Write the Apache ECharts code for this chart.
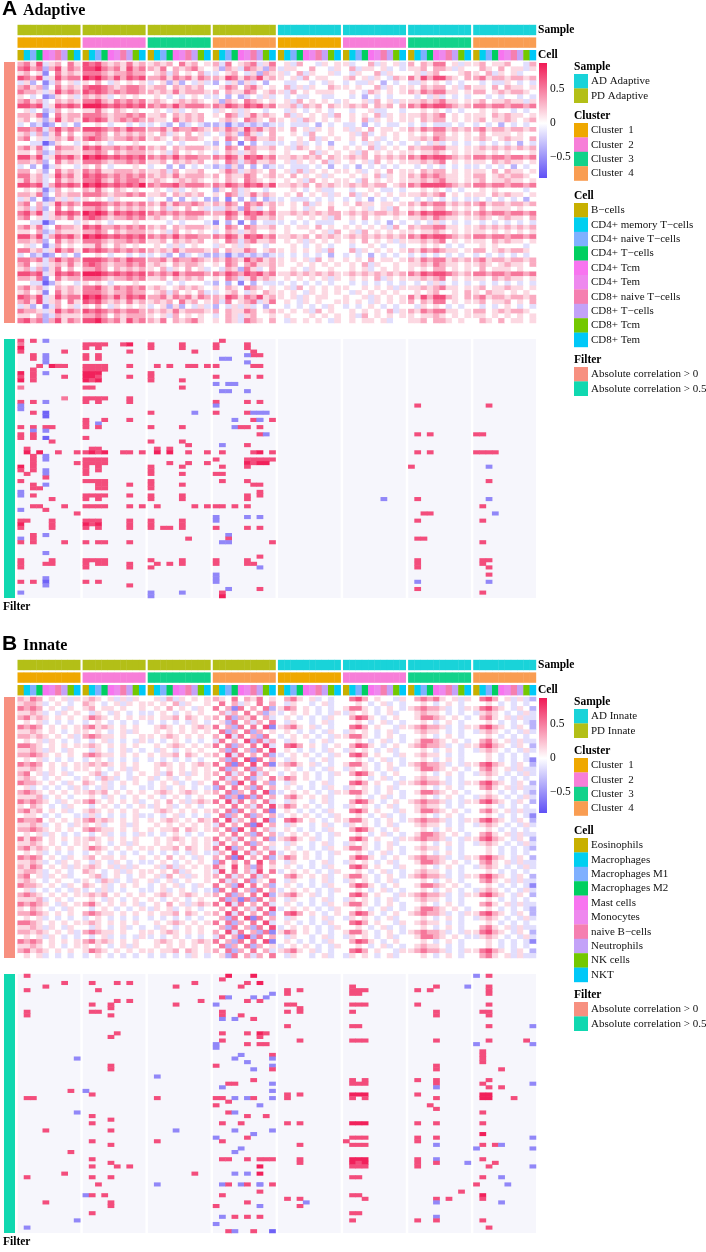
<!DOCTYPE html>
<html>
<head>
<meta charset="utf-8">
<script src="https://cdn.jsdelivr.net/npm/echarts@6/dist/echarts.min.js"></script>
<style>
  html, body { margin: 0; padding: 0; background: #fff; }
  #chart { width: 706px; height: 1252px; }
</style>
</head>
<body>
<div id="chart"></div>
<script>
// ---- data ----
const SAMPLE_KEYS = ['AD', 'PD'];
const GROUP_SAMPLE = ['PD', 'PD', 'PD', 'PD', 'AD', 'AD', 'AD', 'AD'];
const GROUP_CLUSTER = [0, 1, 2, 3, 0, 1, 2, 3];
const CLUSTERS = ['Cluster  1', 'Cluster  2', 'Cluster  3', 'Cluster  4'];
const ADAPTIVE_CELLS = ['B\u2212cells', 'CD4+ memory T\u2212cells', 'CD4+ naive T\u2212cells', 'CD4+ T\u2212cells', 'CD4+ Tcm',
  'CD4+ Tem', 'CD8+ naive T\u2212cells', 'CD8+ T\u2212cells', 'CD8+ Tcm', 'CD8+ Tem'];
const INNATE_CELLS = ['Eosinophils', 'Macrophages', 'Macrophages M1', 'Macrophages M2', 'Mast cells',
  'Monocytes', 'naive B\u2212cells', 'Neutrophils', 'NK cells', 'NKT'];
const FILTERS = ['Absolute correlation > 0', 'Absolute correlation > 0.5'];
const ANNOT_ROWS = ['Sample', 'Cluster', 'Cell'];

// digit code -> correlation
const LEVELS = [-0.72, -0.55, -0.35, -0.15, 0, 0.15, 0.32, 0.52, 0.68, 0.85];
const COLOR_MIN = -0.8, COLOR_MAX = 0.88;
const COLOR_TICKS = [-0.5, 0, 0.5];

// dense rows: 8 groups x 10 cells, one digit per cell
const ADAPTIVE_ALL = [
  "6758356475 8786565756 5656475645 6374567357 4536443545 5344635453 6465774535 5645564436",
  "7867268576 8897675867 6574656754 5265376526 3554464435 4635545343 5564665354 4654645535",
  "5645147565 7776566766 4563645463 3456435265 5346354453 4354463544 4535644456 5463545344",
  "8768358677 9897686878 6675767576 6587576856 5453645544 5645354365 7586886546 6756656656",
  "3524136453 5464354545 3452524353 2435253424 4334434354 3433542434 3354543434 4343354343",
  "6756247565 7887656776 5664656564 4576467545 4635354465 5454463545 5465664536 5546465545",
  "7665358676 8787676776 6565756665 6465576456 5364545554 4543654545 6576775545 6645656654",
  "5434125453 6565345454 4543434543 3424234353 4343344334 4342434344 4343534343 4434344343",
  "6756346565 7786576767 5654565654 5265476545 4536454543 5445364535 5565675545 5645565535",
  "8878358787 9998787878 7676867776 7687687867 5563656465 5656465646 7687887656 7767767767",
  "4534236454 5575465454 4543534544 3545354434 4354345434 4344533443 4454543434 4545443434",
  "6657147566 7776566767 5564656564 5476357565 4635454536 4545463545 5565674545 5546565545",
  "5645258565 8787567676 6554756564 4565476546 5453654545 4546354545 5465664545 5645565456",
  "3423124342 4454344343 3432423432 2313232323 3433342434 3342434334 3434333434 3434243434",
  "7767368676 8887676877 6675766765 6576586756 5464535454 5354645545 6576775656 6756656656",
  "5636257464 6676465656 5463546453 4365275346 4454364454 4536345454 5454664545 4645554544",
  "6745356575 7876566767 5654656654 5476467556 5445463545 4546453454 5565765545 5654565546",
  "4433025443 5454344454 4443434443 2424142433 3435343424 4343534343 4343534343 4343434243",
  "6757347665 8786676767 6564656665 5476476556 4536545454 5454635454 6566775545 5656565656",
  "5546236555 6676465666 5453645454 3465356445 4544463545 4536454545 5455654545 5545454445",
  "8868358786 9898787878 7676867766 7687587867 5565656465 5656465656 7687887656 7767767767",
  "6656247565 7776566767 5564656564 5476367556 4535454635 4545364545 5565674545 5546565545",
  "3424135443 5464344454 3442424343 2325242423 3433343424 3424343434 4343434343 3434342434",
  "6645247565 7675566656 5563645564 4576356546 4536354545 5453454645 5465664545 5546465545",
  "7756358675 8787676767 6565756665 6465576456 5464545354 4545463545 6576765545 6645656654",
  "5756347565 7786576776 5654565654 5465476545 4545364545 5436454545 5565675545 5645565545",
  "8878368787 9898787879 7677867776 7687687868 5565646565 5656566456 7688887656 7767767767",
  "4545136454 6575465454 4543534544 2546354434 4454345334 4344543343 4454543434 4545444434",
  "6657246566 7776566767 5564656564 5476357565 4546454535 4635454545 5565674545 5546565545",
  "3524125353 5454354444 3442424342 2414242423 3433343434 3434243434 4343434343 3434343424",
  "6746358676 8887676767 6575766765 6576476756 5454635454 5465545545 6576775656 6756656656",
  "5636247464 6676465656 5463546453 3365275346 4454354464 4545345364 5454664545 4645554544",
  "7868358787 9898687878 7676767776 6687587867 5565656566 5656566565 7687887656 6767767767",
  "6745356575 7876566767 5654656654 5476467556 5445454536 4546454454 5565765545 5654565546",
  "4433024443 5454344454 4443434443 1424142433 3434343334 4343434243 4343534343 4343434343",
  "6757347665 8786676767 6564656665 5476476556 4545546454 5454545364 6566775545 5656565656",
  "5546236555 6676465666 5453645454 3465356445 4544454536 4536454545 5455654545 5545454545",
  "8868368786 9898787878 7676867766 7687587867 5565646565 5656565656 7687887656 7767767767",
  "6656247565 7776566767 5564656564 5476367556 4545354545 4546454535 5565674545 5546565545",
  "4534136454 5575465454 4543534544 3545354434 4454345434 4344543443 4454543434 4545444434",
  "7756358675 8787676767 6565756665 6465576456 5454545364 4635454545 6576765545 6645656654",
  "3423124342 4454344343 3432423432 2313232323 3434343424 3434243434 3434343434 3434343434",
  "7767368676 8887676877 6675766765 6576586756 5454536454 5454645545 6576775656 6756656656",
  "6745356575 7876566767 5654656654 5476467556 5445454545 4546354454 5565765545 5654565546",
  "5636257464 6676465656 5463546453 4365275346 4454354454 4545345454 5454664545 4645554544",
  "8878358787 9998787878 7676867776 7687687867 5565656565 5656565656 7687887656 7767767767",
  "6657147566 7776566767 5564656564 5476357565 4545454535 4545463545 5565674545 5546565545",
  "4433025443 5454344454 4443434443 2424142433 3434343434 4343434343 4343534343 4343434343",
  "6756346565 7786576767 5654565654 5465476545 4536454545 5445454535 5565675545 5645565545",
  "5645147565 7776566766 4563645463 3456435465 5454354545 4354545454 4545644546 5465545454",
  "8768358677 9897686878 6675767576 6587576856 5453545544 5445354545 7586886546 6756656656",
  "6758356475 8786565756 5656475645 6374567357 4543545445 5454354545 6465774545 5645564546",
  "3524136453 5464354545 3452524353 2435353424 4343434354 3434543434 4354543434 4343454343",
  "7665358676 8787676776 6565756665 6465576456 5454536454 4545454635 6576775545 6645656654",
  "5546236555 6676465666 5453645454 3465356445 4544454545 4536454545 5455654545 5545454545",
  "7867268576 8897675867 6574656754 5465376546 4354545435 4545545344 5564665454 4654645545"
];

const INNATE_ALL = [
  "6576454535 5654535354 4536354545 6547465745 4675453434 4786454435 4676754535 4786453532",
  "5665345434 6543453545 5454635445 4746354746 4354434534 4454345343 4454345434 4454343434",
  "7676454354 5645545445 4546454354 7461746472 5764543434 5775434543 5676653435 5786543542",
  "5565343545 4354354343 3454345454 4636474625 3454543435 3545434534 4565543434 3565434353",
  "6756545454 5765454545 5455646545 6472657463 4543434354 4687543454 4577654543 4675453533",
  "4545343434 3454343434 3434343543 4527463647 4354434534 4454345343 4454345434 4454343432",
  "7676454545 6756545454 4565454565 7462747481 5675453434 4786454435 5676653435 5786543542",
  "5565454345 5454345354 4545454545 4726472645 4543434354 3545434534 4565543434 3565434353",
  "6656545453 6765545445 5456545454 6483746274 3454543435 5775434543 4454345434 4454343434",
  "4545354343 4345343435 3434543434 3746482736 4354434534 4454345343 4577654543 4675453533",
  "7765454545 5654545454 4545654545 7472647483 4786454345 4687543454 5676653435 5786543542",
  "5565354354 4354345343 4354345454 4627462748 4543434354 3545434534 4454345434 3565434353",
  "6676545454 6765545454 5455646545 6483746472 3454543435 4786454435 4565543434 4454343434",
  "4545343434 3454343434 3434343434 4627481746 4354434534 4454345343 4454345434 4454343431",
  "7676454545 5656545454 4565454565 7471748471 5675453434 5775434543 5676653435 5786543542",
  "5565454345 5454345354 4545454545 4726472645 4543434354 3545434534 4577654543 4675453533",
  "6745354534 4563454345 4536453545 6473647364 3454543435 4687543454 4454345434 3565434353",
  "5654345443 5436534354 5345345445 4736472547 5764543434 4454345343 4565543434 4454343434",
  "7665454354 6545345454 3454534354 7462847462 4354434534 4786454435 5676653435 5786543542",
  "4534343435 3435343443 3453454343 2747462746 4543434354 3545434534 4454345434 4675453533",
  "6765454545 5656454545 4565456545 6472647482 3454543435 5775434543 4577654543 4454343432",
  "5556345434 4543543454 5434543454 4726172746 4675454534 4454345343 4454345434 3565434353",
  "7676543545 6754545453 4546453565 7483746473 4354434534 4687543454 5676653435 5786543542",
  "5465434354 4345434345 3545345434 4647463748 5764543434 3545434534 4565543434 4454343434",
  "6756454534 5654545454 4565454545 6472746471 4543434354 4786454435 4577654543 4675453533",
  "4554343443 3534343453 3434534343 4726472646 3454543435 4454345343 4454345434 4454343431",
  "7667454545 6756545454 5456545465 7483647482 4786454345 5775434543 5676653435 5786543542",
  "5565345435 5453445354 4545454545 3746471846 4354434534 3545434534 4565543434 3565434353",
  "6676545454 6765545454 5455646545 6472847463 4543434354 4687543454 4454345434 4454343434",
  "4545354343 4345343435 3434543434 4647462746 3454543435 4454345343 4577654543 4675453533",
  "7576454545 5654545454 4545654545 7463746472 5675453434 4786454435 5676653435 5786543542",
  "5565454345 5454345354 4545454545 3746472645 4354434534 3545434534 4454345434 3565434353",
  "6756545454 5765454545 5455646545 7482647463 4543434354 5775434543 4565543434 4454343432",
  "4545343434 3454343434 3434343543 3648473647 3454543435 4454345343 4454345434 4454343434",
  "7676454354 5645545445 4546454354 6471846472 5764543434 4687543454 5676653435 5786543542",
  "5565343545 4354354343 3454345454 2746474846 4354434534 3545434534 4577654543 4675453533",
  "6576454535 5654535354 4536354545 7548462745 4543434354 4786454435 4454345434 3565434353",
  "5665345434 6543453545 5454635445 3847463847 3454543435 4454345343 4565543434 4454343434",
  "6745354534 4563454345 4536453545 6473647364 4675454534 5775434543 5676653435 5786543542",
  "5654345443 5436534354 5345345445 4736472547 4354434534 3545434534 4454345434 4675453533",
  "7665454354 6545345454 3454534354 7462847462 4543434354 4687543454 4577654543 4454343431",
  "4534343435 3435343443 3453454343 2747462746 3454543435 4454345343 4454345434 3565434353",
  "6765454545 5656454545 4565456545 6472647482 5675453434 4786454435 5676653435 5786543542",
  "5556345434 4543543454 5434543454 4726172746 4354434534 3545434534 4565543434 4454343434",
  "7676543545 6754545453 4546453565 7483746473 4543434354 5775434543 4454345434 4675453533",
  "5465434354 4345434345 3545345434 4647463748 3454543435 4454345343 4577654543 4454343432",
  "6676545454 6765545454 5455646545 6483746472 4786454345 4687543454 5676653435 5786543542",
  "4545343434 3454343434 3434343434 4627481746 4354434534 3545434534 4454345434 3565434353",
  "7765454545 5654545454 4545654545 7472647483 4543434354 4786454435 4565543434 4454343434",
  "5565354354 4354345343 4354345454 4627462748 3454543435 4454345343 4454345434 4675453533",
  "6656545453 6765545445 5456545454 6483746271 5764543434 5775434543 5676653435 5786543542",
  "4545354343 4345343435 3434543434 3746182746 4354434534 3545434534 4577654543 3565434353",
  "7676454545 6756545454 4565454565 7462747481 4543434354 4687543454 4454345434 4454343431",
  "5565454345 5454345354 4545454545 4726472645 3454543435 4454345343 4565543434 4454343434",
  "6756545454 5765454545 5455646545 6472647463 5675453434 4786454435 5676653435 5786543542",
  "4545343434 3454343434 3434343543 4527463647 4354434534 3545434534 4454345434 4675453533"
];

// sparse rows (|r| > 0.5): per group, pairs of (column digit, level digit); "-" = none
const ADAPTIVE_STRONG = [
  "082841 - - 18 - - - -",
  "07 081828386879 0858 0858 - - - -",
  "09 0828 0858 0858 - - - -",
  "0878 78 78 68 - - - -",
  "2841 0828 - 687851 - - - -",
  "2841 0828 - 1121 - - - -",
  "41 - - 51 - - - -",
  "3859686878 0818283878 1838687898 086878 - - - -",
  "28 08182838 - - - - - -",
  "092841 091929 08 - - - - -",
  "082878 09192878 08 085878 - - - -",
  "0928 091829 0858 - - - - -",
  "- - - 012131 - - - -",
  "07 0818 58 - - - - -",
  "- - - 112151 - - - -",
  "- - - - - - - -",
  "77 0818283878 - - - - - -",
  "082841 082878 - 085878 - - - -",
  "01 - - 01 - - 18 28",
  "01 - - - - - - -",
  "2840 - 0871 0858617181 - - - -",
  "40 - - - - - - -",
  "- 083878 - 3168717198 - - - -",
  "- 0821 - - - - - -",
  "08284858 0828 0858 31485878 - - - -",
  "2141 - - - - - - -",
  "0828 - - 7881 - - 1838 0818",
  "082840 08 - - - - - -",
  "58 - 0858 - - - - -",
  "- - 68 1158 - - - -",
  "18 1828 1838 - - - - -",
  "19396898 08192839687898 19396898 18687998 - - 1838 08182838",
  "2841 - - - - - - -",
  "2841 08182838 - 085868788898 - - - -",
  "2898 08182838 386898 59687989 - - - -",
  "0928 0828 0858 1858 - - 08 21",
  "082841 0828 08 - - - - -",
  "1841 08 0858 0818 - - - -",
  "48 - - - - - - -",
  "08 08182838 08 1858 - - - 28",
  "2841 283878 0858 6878 - - - -",
  "2838 2838 08 - - - - -",
  "01 - - 78 - - - -",
  "0128 0818283878 0858 5878 - - - -",
  "58 0828 0858 58 - 61 18 21",
  "- - - - - - - -",
  "283878 081828387898 187898 08183858 - - - 18",
  "0148 - - - - - - -",
  "98 - - - - - 2838 31",
  "- - - 015171 - - - -",
  "081858 08182878 0858 01 - - 18 18",
  "0958 09182978 0858 - - - - -",
  "0858 082878 08283858 085878 - - - -",
  "- - - - - - - -",
  "2841 - - 21 - - - -",
  "0128 - 68 28 - - 1828 -",
  "082878 08283878 - 112198 - - - 18",
  "- - - - - - - -",
  "- - - - - - - -",
  "41 - - - - - - -",
  "- - - 78 - - - -",
  "0858 08182838 0858 0858 - - 18 1828",
  "084858 08283878 183858 085868 - - 18 18",
  "08 0878 08 71 - - 18 28",
  "- - - - - - - -",
  "- - - 01 - - - 28",
  "41 - - 01 - - - -",
  "082840 0828 - 01 - - 11 21",
  "41 78 - - - - - -",
  "- - - 2178 - - 18 -",
  "01 - 0151 18 - - - 18",
  "- - 01 19 - - - -"
];

const INNATE_STRONG = [
  "18 - - 2969 - - - 0128",
  "- - - 18 - - - -",
  "78 185878 78 5879 - - - -",
  "48 - 48 48 - 18 4891 28",
  "18 28 - - 1838 182838 1838 28",
  "- - - 91 18 1828 - 28",
  "- - - 18216181 - - - -",
  "- 5878 88 5878 - - - -",
  "- 1848 48 01 1828 182838 18 28",
  "- 48 - - 38 - - -",
  "18 1828 - 18 1838 18 48 1828",
  "18 48 - 1848 - - 48 28",
  "- - - 113168 - - - -",
  "- - - - - - - -",
  "- - - - 18 1828 - 2891",
  "- - - - - - - -",
  "- 58 - 18587988 - - - -",
  "- 48 - 78 - - - -",
  "- - - 18 38 182838 48 2888",
  "- - - 01587888 - - - 0191",
  "- - - 01 - - - -",
  "- - - - - - - 18",
  "- - - 4198 - - - 18",
  "91 - - 3191 - - - 18",
  "- - - 51 - - - 18",
  "- 48 - 0891 - - 48 -",
  "- 48 - 6198 - - 48 48",
  "- - - - - - - -",
  "- - 11 - - - - -",
  "- - - 68 - 1838 1848 28",
  "- - - 283891 - 182838 48 1891",
  "- - - 11 - - 41 2848",
  "88 01 - 91 - - - -",
  "- 18 - - 1838 192939 18 1929",
  "1828 - 18 081831516891 18 1838 48 192968",
  "- - - 28 - - - -",
  "- - - 0871 - - 38 -",
  "- - - - - - 48 -",
  "91 - - 2831 - - - 18",
  "- 18 - 5888 - - - -",
  "- 48 - - - - - -",
  "- 18 - 1848 1838 192939 1848 18",
  "- - - - - - - -",
  "48 48 41 3191 - - - -",
  "- - - 61 - - - 19",
  "- - - 0158 - 182838 1848 91",
  "- 18 18 18 - 08 18 -",
  "- 48 - - 38 182838 41 183841",
  "- - - 41 - - - 0191",
  "88 - - 31 - - - -",
  "- - - - - - - -",
  "- 18 - 182858788898 38 192939 1841 18",
  "- 48 - - 38 192839 184891 38",
  "- 185878 - 79 - 182838 18 2891",
  "- - - - - - - -",
  "78 - 78 315179 - - - -",
  "18 1848 - - - 1828 - 1841",
  "- - - - - - - -",
  "- 28 11 11284158717198 - - - 0851",
  "- - - - - - - -",
  "- - - 78 - - 88 -",
  "- 011838 - 18 - 1828 - 19",
  "- - - - 1838 38 4868 18",
  "48 48 - 58 41 - 41 41",
  "- 48 - 0871 38 - - -",
  "- - - - - - - -",
  "- 18 - - - 1828 - -",
  "- - - 11385878 - - 41 -",
  "91 - - - - 18 1848 18",
  "- - - 01 - - - -",
  "11 - - - - - - 28",
  "- - - 28316890 - - - -"
];

// ---- colours ----
const SAMPLE_COLORS = { AD: '#19D3D9', PD: '#B3BF17' };
const CLUSTER_COLORS = ['#EFA800', '#F77ED8', '#12D28A', '#F99D52'];
const CELL_COLORS = ['#C8B000', '#00CFF0', '#7FB0FF', '#00CF60', '#F874F0',
  '#EE88EE', '#F57FB0', '#C3A2F8', '#73C800', '#00C8F8'];
const FILTER_COLORS = ['#F79080', '#10D8B0'];
const NEG_END = [95, 80, 245], POS_END = [240, 25, 85];
const NA_COLOR = '#F6F6FC';
const SERIF = 'Liberation Serif';

function heatColor(v) {
  const t = v < 0 ? Math.min(1, v / COLOR_MIN) : Math.min(1, v / COLOR_MAX);
  const end = v < 0 ? NEG_END : POS_END;
  const m = k => Math.round(255 + (end[k] - 255) * t);
  return 'rgb(' + m(0) + ',' + m(1) + ',' + m(2) + ')';
}
const STEPS = 42;
const VM_COLORS = [];
for (let i = 0; i <= STEPS; i++) VM_COLORS.push(heatColor(COLOR_MIN + (COLOR_MAX - COLOR_MIN) * i / STEPS));
const GRAD_STOPS = VM_COLORS.slice().reverse().map((c, i) => ({ offset: i / STEPS, color: c }));

function parseDense(rows) {
  return rows.map(r => r.replace(/ /g, '').split('').map(ch => LEVELS[+ch]));
}
function parseSparse(rows) {
  const out = [];
  rows.forEach((row, r) => {
    row.split(' ').forEach((part, g) => {
      if (part === '-') return;
      for (let k = 0; k < part.length; k += 2) out.push({ g: g, c: +part[k], r: r, v: LEVELS[+part[k + 1]] });
    });
  });
  return out;
}

const PANELS = [
  { key: 'A', title: 'Adaptive', dy: 0, samples: ['AD Adaptive', 'PD Adaptive'], cells: ADAPTIVE_CELLS, all: ADAPTIVE_ALL, strong: ADAPTIVE_STRONG },
  { key: 'B', title: 'Innate', dy: 635, samples: ['AD Innate', 'PD Innate'], cells: INNATE_CELLS, all: INNATE_ALL, strong: INNATE_STRONG }
];

// ---- layout ----
const GX0 = 17.7, GW = 62.6, GSTEP = 65.1;

const grid = [], xAxis = [], yAxis = [], series = [], graphic = [], heatIdx = [];

function addGrid(box, xa, ya) {
  const i = grid.length;
  grid.push(Object.assign({ containLabel: false }, box));
  xAxis.push(Object.assign({ gridIndex: i, show: false }, xa));
  yAxis.push(Object.assign({ gridIndex: i, show: false }, ya));
  return i;
}

function annotRect(params, api) {
  const c = api.coord([api.value(0), api.value(1)]);
  const s = api.size([1, 1]);
  return {
    type: 'rect',
    shape: { x: c[0] - s[0] / 2 - 0.2, y: c[1] - 5.2, width: s[0] + 0.4, height: 10.4 },
    style: { fill: api.visual('color') }
  };
}
function fullRect(params, api) {
  const c = api.coord([api.value(0), api.value(1)]);
  const s = api.size([1, 1]);
  return {
    type: 'rect',
    shape: { x: c[0] - s[0] / 2, y: c[1] - s[1] / 2, width: s[0], height: s[1] },
    style: { fill: api.visual('color') }
  };
}

PANELS.forEach(p => {
  const dy = p.dy;
  const dense = parseDense(p.all);
  const sparse = parseSparse(p.strong);
  const strongRows = p.strong.map((_, r) => String(r));
  const allRows = dense.map((_, r) => String(r));

  for (let g = 0; g < 8; g++) {
    const left = GX0 + g * GSTEP;

    // annotation bars
    let i = addGrid(
      { left: left, top: 23.7 + dy, width: GW, height: 37.8 },
      { type: 'category', data: p.cells },
      {
        type: 'category', data: ANNOT_ROWS, inverse: true, show: g === 7, position: 'right',
        axisLine: { show: false }, axisTick: { show: false },
        axisLabel: { margin: 2, fontFamily: SERIF, fontWeight: 'bold', fontSize: 11.5, color: '#000' }
      }
    );
    const items = [];
    p.cells.forEach((name, c) => {
      items.push({ value: [c, 0], itemStyle: { color: SAMPLE_COLORS[GROUP_SAMPLE[g]] } });
      items.push({ value: [c, 1], itemStyle: { color: CLUSTER_COLORS[GROUP_CLUSTER[g]] } });
      items.push({ value: [c, 2], itemStyle: { color: CELL_COLORS[c] } });
    });
    series.push({ type: 'custom', xAxisIndex: i, yAxisIndex: i, silent: true, renderItem: annotRect, data: items });

    // all correlations
    i = addGrid(
      { left: left, top: 62 + dy, width: GW, height: 261 },
      { type: 'category', data: p.cells },
      { type: 'category', data: allRows, inverse: true }
    );
    const hd = [];
    dense.forEach((row, r) => { for (let c = 0; c < 10; c++) hd.push([c, r, row[g * 10 + c]]); });
    heatIdx.push(series.length);
    series.push({ type: 'heatmap', xAxisIndex: i, yAxisIndex: i, data: hd, progressive: 0, silent: true, itemStyle: { borderWidth: 0 } });

    // strong correlations
    i = addGrid(
      { left: left, top: 339 + dy, width: GW, height: 259, show: true, backgroundColor: NA_COLOR, borderWidth: 0 },
      { type: 'category', data: p.cells },
      { type: 'category', data: strongRows, inverse: true }
    );
    const sd = sparse.filter(e => e.g === g).map(e => [e.c, e.r, e.v]);
    heatIdx.push(series.length);
    series.push({ type: 'heatmap', xAxisIndex: i, yAxisIndex: i, data: sd, progressive: 0, silent: true, itemStyle: { borderWidth: 0 } });
  }

  // filter annotation on the left
  [[62, 261], [339, 259]].forEach((box, k) => {
    const i = addGrid(
      { left: 4, top: box[0] + dy, width: 11, height: box[1] },
      { type: 'category', data: ['Filter'] },
      { type: 'category', data: [FILTERS[k]] }
    );
    series.push({
      type: 'custom', xAxisIndex: i, yAxisIndex: i, silent: true, renderItem: fullRect,
      data: [{ value: [0, 0], itemStyle: { color: FILTER_COLORS[k] } }]
    });
  });

  // colour bar
  const ci = addGrid(
    { left: 539, top: 63 + dy, width: 8, height: 115 },
    { type: 'category', data: ['r'] },
    {
      type: 'value', min: COLOR_MIN, max: COLOR_MAX, show: true, position: 'right',
      axisLine: { show: false }, axisTick: { show: false }, splitLine: { show: false },
      axisLabel: {
        customValues: COLOR_TICKS, margin: 3, fontFamily: SERIF, fontSize: 11.5, color: '#111',
        formatter: v => (v < 0 ? '\u2212' + Math.abs(v) : String(v))
      }
    }
  );
  series.push({
    type: 'custom', xAxisIndex: ci, yAxisIndex: ci, silent: true,
    renderItem: (params, api) => {
      const top = api.coord([0, COLOR_MAX]), bot = api.coord([0, COLOR_MIN]);
      const s = api.size([1, 0]);
      return {
        type: 'rect',
        shape: { x: top[0] - s[0] / 2, y: top[1], width: s[0], height: bot[1] - top[1] },
        style: { fill: new echarts.graphic.LinearGradient(0, 0, 0, 1, GRAD_STOPS) }
      };
    },
    data: [[0, 0]]
  });

  // titles
  graphic.push({ type: 'text', x: 2, y: 20 + dy, style: { text: p.key, font: 'bold 21px "Liberation Sans"', fill: '#000', verticalAlign: 'bottom' } });
  graphic.push({ type: 'text', x: 23, y: 18.5 + dy, style: { text: p.title, font: 'bold 16px "' + SERIF + '"', fill: '#000', verticalAlign: 'bottom' } });
  graphic.push({ type: 'text', x: 3, y: 613 + dy, style: { text: 'Filter', font: 'bold 11.5px "' + SERIF + '"', fill: '#000', verticalAlign: 'bottom' } });

  // legends
  const blocks = [
    { title: 'Sample', top: 74, names: p.samples, colors: SAMPLE_KEYS.map(k => SAMPLE_COLORS[k]) },
    { title: 'Cluster', top: 123, names: CLUSTERS, colors: CLUSTER_COLORS },
    { title: 'Cell', top: 203, names: p.cells, colors: CELL_COLORS },
    { title: 'Filter', top: 367, names: FILTERS, colors: FILTER_COLORS }
  ];
  blocks.forEach(b => {
    const t = b.top + dy;
    graphic.push({ type: 'text', x: 574, y: t - 0.5, style: { text: b.title, font: 'bold 11.5px "' + SERIF + '"', fill: '#000', verticalAlign: 'bottom' } });
    b.names.forEach((n, k) => {
      graphic.push({ type: 'rect', shape: { x: 574, y: t + k * 14.4, width: 14, height: 14.6 }, style: { fill: b.colors[k] } });
      graphic.push({ type: 'text', x: 591, y: t + k * 14.4 + 7.4, style: { text: n, font: '11px "' + SERIF + '"', fill: '#111', verticalAlign: 'middle' } });
    });
  });
});

const chart = echarts.init(document.getElementById('chart'), null, { renderer: 'canvas' });
chart.setOption({
  animation: false,
  backgroundColor: '#fff',
  grid: grid,
  xAxis: xAxis,
  yAxis: yAxis,
  visualMap: {
    type: 'continuous', show: false, min: COLOR_MIN, max: COLOR_MAX,
    seriesIndex: heatIdx, dimension: 2, inRange: { color: VM_COLORS }
  },
  series: series,
  graphic: graphic
});
</script>
</body>
</html>
